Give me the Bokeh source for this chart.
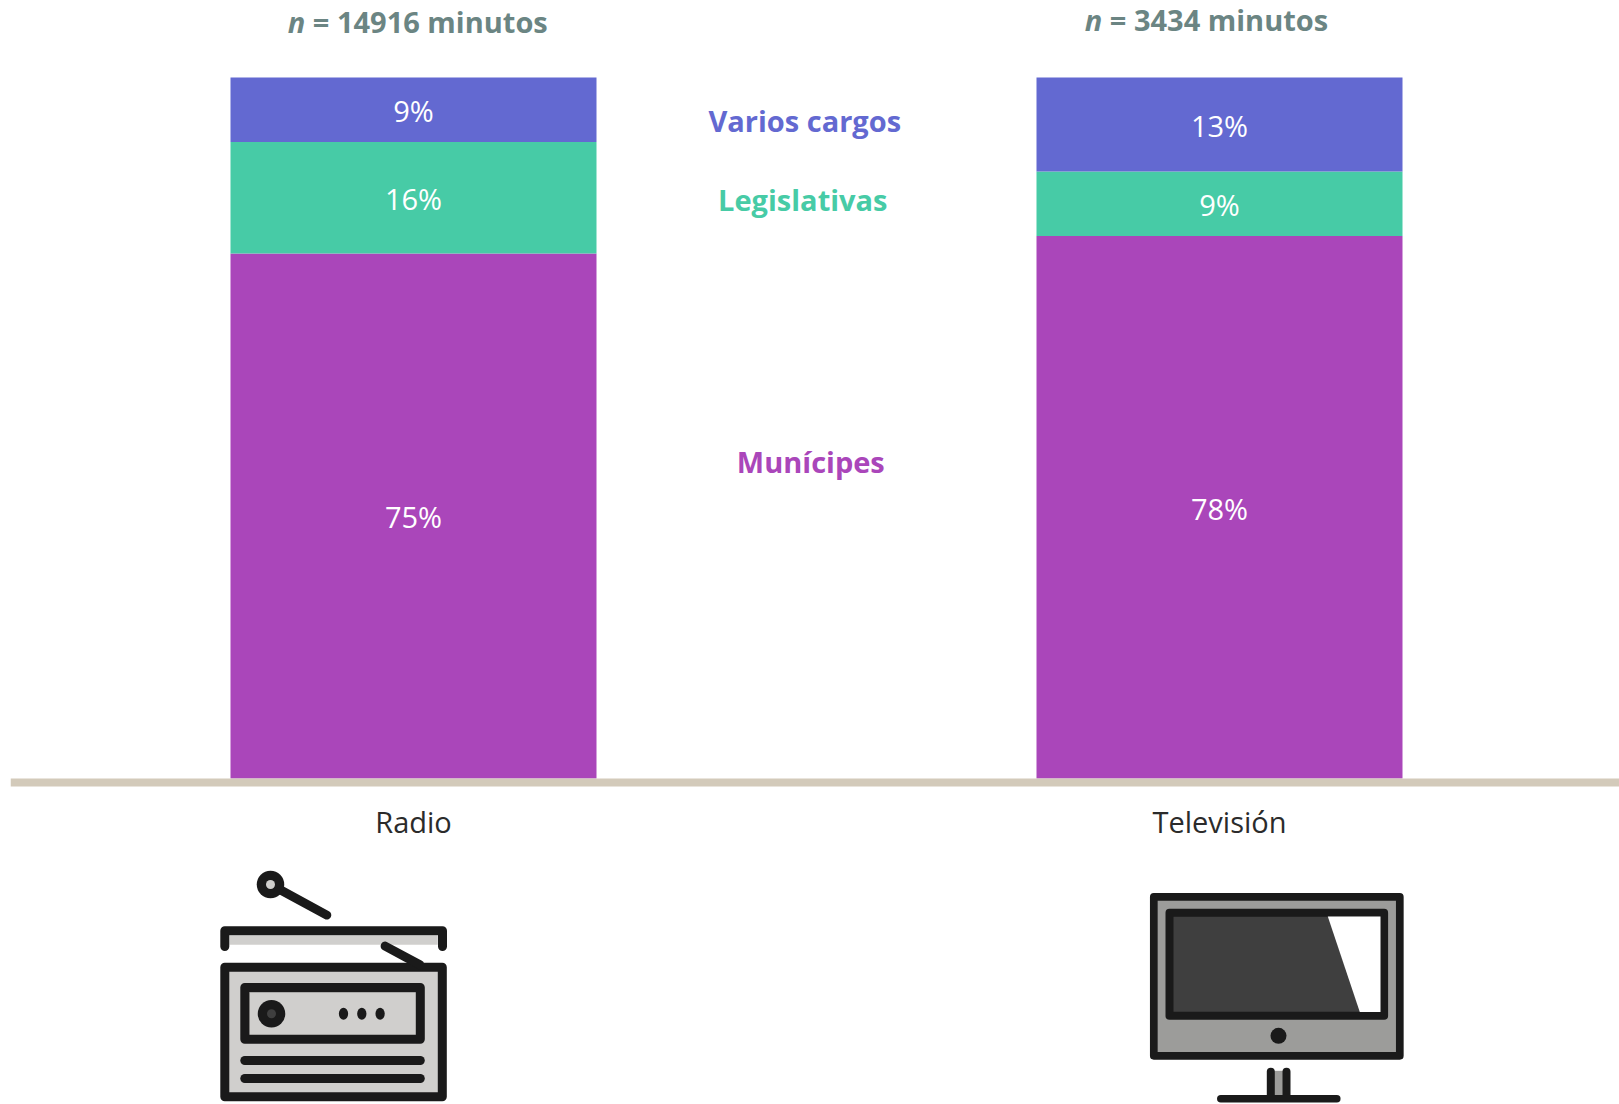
from bokeh.embed import file_html
from bokeh.resources import INLINE
from bokeh.plotting import figure
from bokeh.models import Range1d, LinearAxis, FixedTicker
from bokeh.core.properties import value

# ---- data ----
media = ["Radio", "Televisión"]
n_minutes = [14916, 3434]
series_names = ["Munícipes", "Legislativas", "Varios cargos"]
municipes = [74.9, 77.4]
legislativas = [15.9, 9.2]
varios = [9.2, 13.4]
label_municipes = ["75%", "78%"]
label_legislativas = ["16%", "9%"]
label_varios = ["9%", "13%"]

# ---- style ----
PURPLE, GREEN, BLUE = "#AA46BA", "#47CBA6", "#6369D1"
RULE, HEADER, DARK = "#D3CABA", "#6B8583", "#2B2B2B"
INK, LIGHT, MID, SCREEN = "#1A1A1A", "#D0CFCD", "#9C9C9A", "#3F3F3F"
FONT = value("Open Sans")
FS = "29px"
PX_PER_X, PX_PER_Y = 806, 7.01
X0, Y0 = 413, 778
L, R, T, B = 10, 1619, 0, 1104

p = figure(width=1619, height=1104, output_backend="svg", toolbar_location=None,
           x_range=Range1d((L - X0) / PX_PER_X, (R - X0) / PX_PER_X),
           y_range=Range1d((Y0 - B) / PX_PER_Y, (Y0 - T) / PX_PER_Y),
           x_axis_location=None, y_axis_location=None,
           min_border_left=L, min_border_right=0, min_border_top=0, min_border_bottom=0,
           outline_line_color=None)
p.grid.visible = False
p.extra_x_ranges["px"] = Range1d(L + 0.7, R + 0.7)
p.extra_y_ranges["px"] = Range1d(B + 0.7, T + 0.7)

# stacked bars
x = list(range(len(media)))
b1 = [0.0] * len(x)
t1 = municipes
t2 = [a + c for a, c in zip(t1, legislativas)]
t3 = [a + c for a, c in zip(t2, varios)]
BW = 366 / PX_PER_X
for bottom, top, color, lab in [(b1, t1, PURPLE, label_municipes),
                                (t1, t2, GREEN, label_legislativas),
                                (t2, t3, BLUE, label_varios)]:
    mid = [(a + c) / 2 for a, c in zip(bottom, top)]
    p.vbar(x=x, bottom=bottom, top=top, width=BW, fill_color=color, line_color=None)
    p.text(x=x, y=mid, text=lab, text_font=FONT, text_font_size=FS, text_color="white",
           text_align="center", text_baseline="middle", y_offset=1)

# baseline axis with the media names
ax = LinearAxis(ticker=FixedTicker(ticks=x), major_label_overrides=dict(zip(x, media)),
                fixed_location=-3.5 / PX_PER_Y, axis_line_color=RULE, axis_line_width=8,
                major_tick_line_color=None, minor_tick_line_color=None,
                major_label_text_font="Open Sans", major_label_text_font_size=FS,
                major_label_text_color=DARK, major_label_standoff=14)
p.add_layout(ax, "below")

# direct labels for series
px = dict(x_range_name="px", y_range_name="px")
for name, lx, ly, c in zip(series_names, [811, 803, 805], [461.5, 199.5, 120.5], [PURPLE, GREEN, BLUE]):
    p.text(x=[lx], y=[ly], text=[name], text_font=FONT, text_font_size=FS, text_font_style="bold",
           text_color=c, text_align="center", text_baseline="middle", **px)

# headers
for n, hx, hy in zip(n_minutes, [288, 1085], [21.5, 19.5]):
    p.text(x=[hx], y=[hy], text=["n"], text_font=FONT, text_font_size=FS, text_font_style="bold italic",
           text_color=HEADER, text_baseline="middle", **px)
    p.text(x=[hx + 25], y=[hy], text=[f"= {n} minutos"], text_font=FONT, text_font_size=FS,
           text_font_style="bold", text_color=HEADER, text_baseline="middle", **px)


def box(x0, x1, y0, y1, fill, lw=9):
    p.quad(left=[x0], right=[x1], top=[y0], bottom=[y1], fill_color=fill,
           line_color=INK if lw else None, line_width=lw, line_join="round", **px)


def stroke(xs, ys, lw=9, color=INK):
    p.line(xs, ys, line_color=color, line_width=lw, line_cap="round", line_join="round", **px)


def dot(cx, cy, d, color):
    p.scatter([cx], [cy], size=d, marker="circle", fill_color=color, line_color=None, **px)


# radio icon
box(229.7, 438, 935.7, 945, LIGHT, 0)
stroke([225, 225, 442.7, 442.7], [946.7, 931, 931, 946.7])
box(225, 442.5, 967.5, 1097, LIGHT)
box(245, 250, 987.6, 1039.5, MID, 0)
box(245, 420.5, 987.6, 993, MID, 0)
p.quad(left=[245], right=[420.5], top=[987.6], bottom=[1039.5], fill_color=None,
       line_color=INK, line_width=9, line_join="round", **px)
dot(271.7, 1014, 27.5, INK)
dot(271.7, 1014, 9, SCREEN)
p.ellipse(x=[343.7, 362, 380.3], y=[1014] * 3, width=9.3, height=12, fill_color=INK, line_color=None,
          width_units="screen", height_units="screen", **px)
stroke([245, 420.5], [1060.7, 1060.7])
stroke([245, 420.5], [1078.7, 1078.7])
stroke([270.7, 327], [884.7, 915.3])
dot(270.7, 884.7, 27.5, INK)
dot(270.7, 884.7, 9, LIGHT)
stroke([385.3, 420], [946.3, 965])

# television icon
box(1154, 1400, 897, 1056, MID, 7.7)
box(1169.7, 1384.3, 913, 1016, SCREEN, 8)
p.patch([1328, 1380.7, 1380.7, 1360], [916.7, 916.7, 1012.3, 1012.3], fill_color="white", line_color=None, **px)
dot(1278.7, 1036, 16, INK)
box(1271, 1286.7, 1071, 1096, MID, 0)
stroke([1271, 1271], [1072, 1097], 8)
stroke([1286.7, 1286.7], [1072, 1097], 8)
stroke([1221, 1337], [1099, 1099], 7.5)

open("out.html", "w").write(file_html(p, INLINE))
